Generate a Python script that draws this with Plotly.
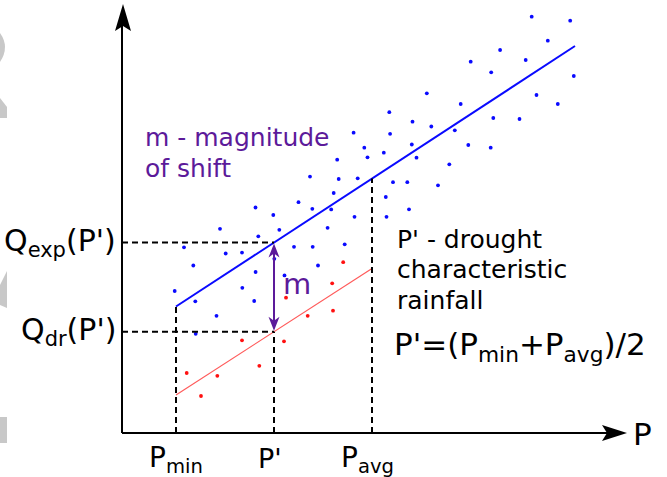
import numpy as np
import plotly.graph_objects as go

# ---- data (P = rainfall, Q = runoff, arbitrary units) ----
blue_P = [409.7, 448.2, 425.8, 378.1, 348.7, 403.7, 369.2, 451.8, 304.8, 414.5,
          338.7, 435.8, 267.3, 290.5, 309.3, 371.3, 397.5, 332.8, 231.6, 268.1,
          242.3, 289.8, 346.3, 368.7, 261.8, 245.5, 294.5, 215.2, 327.3, 188.0,
          216.7, 235.7, 271.0, 285.3, 316.0, 211.7, 263.8, 190.3, 209.2, 287.0,
          232.5, 264.5, 205.6, 176.5, 133.5, 151.3, 98.0, 157.3, 136.3, 62.0,
          172.0, 190.7, 222.7, 103.7, 120.0, 152.3, 71.3, 196.0, 133.6, 162.5,
          52.7, 120.3, 73.3, 132.2, 94.5, 73.7]
blue_Q = [416.3, 412.3, 392.3, 383.0, 371.3, 373.0, 360.7, 357.0, 339.7, 338.0,
          329.0, 329.0, 320.8, 311.3, 306.5, 315.0, 314.0, 302.7, 300.3, 299.2,
          285.3, 288.5, 288.0, 285.3, 280.3, 275.7, 275.3, 273.3, 268.7, 256.4,
          254.0, 254.7, 250.8, 250.8, 247.7, 240.0, 236.0, 224.2, 223.6, 223.7,
          216.2, 216.2, 205.2, 230.8, 225.5, 218.0, 204.2, 203.2, 196.7, 185.7,
          186.2, 186.2, 188.7, 179.5, 180.4, 174.2, 167.5, 167.5, 161.0, 157.6,
          142.0, 145.2, 131.7, 132.0, 117.2, 99.2]

red_P = [221.2, 210.2, 164.0, 211.0, 185.7, 120.0, 162.0, 137.3, 64.7, 95.3, 79.0]
red_Q = [170.8, 149.7, 135.3, 122.3, 117.2, 92.7, 91.7, 67.2, 60.0, 57.2, 37.0]

# fitted relations (end points)
exp_line_P = [54, 453]
exp_line_Q = [126.5, 387]
dr_line_P = [54, 250]
dr_line_Q = [38, 164.5]

P_min = 54
P_avg = 250
P_prime = (P_min + P_avg) / 2
Q_exp = float(np.interp(P_prime, exp_line_P, exp_line_Q))
Q_dr = float(np.interp(P_prime, dr_line_P, dr_line_Q))
Q_exp_avg = float(np.interp(P_avg, exp_line_P, exp_line_Q))

FONT = "DejaVu Sans"
PURPLE = "#5c1a9a"
GREY = "#c8c8c8"

fig = go.Figure()

fig.add_trace(go.Scatter(x=exp_line_P, y=exp_line_Q, mode="lines",
                         line=dict(color="#0a0aff", width=2), hoverinfo="skip"))
fig.add_trace(go.Scatter(x=dr_line_P, y=dr_line_Q, mode="lines",
                         line=dict(color="#ff5a5a", width=1.2), hoverinfo="skip"))
fig.add_trace(go.Scatter(x=blue_P, y=blue_Q, mode="markers",
                         marker=dict(color="#0a0aff", size=3.8, line=dict(width=0))))
fig.add_trace(go.Scatter(x=red_P, y=red_Q, mode="markers",
                         marker=dict(color="#ff1010", size=3.8, line=dict(width=0))))

shapes = []
dash = dict(color="black", width=2, dash="6px,4px")
# guide lines
shapes.append(dict(type="line", x0=0, x1=P_prime, y0=Q_exp, y1=Q_exp, line=dash))
shapes.append(dict(type="line", x0=0, x1=P_prime, y0=Q_dr, y1=Q_dr, line=dash))
shapes.append(dict(type="line", x0=P_min, x1=P_min, y0=0, y1=exp_line_Q[0], line=dash))
shapes.append(dict(type="line", x0=P_prime, x1=P_prime, y0=0, y1=Q_dr, line=dash))
shapes.append(dict(type="line", x0=P_avg, x1=P_avg, y0=0, y1=Q_exp_avg, line=dash))

# axes with arrow heads
shapes.append(dict(type="line", x0=0, x1=0, y0=0, y1=410, line=dict(color="black", width=2)))
shapes.append(dict(type="line", x0=0, x1=490, y0=0, y1=0, line=dict(color="black", width=2)))
shapes.append(dict(type="path", path="M 1 429 L -7 402 L 1 407 L 9 402 Z",
                   fillcolor="black", line=dict(width=0)))
shapes.append(dict(type="path", path="M 505 0 L 480 -8 L 485 0 L 480 8 Z",
                   fillcolor="black", line=dict(width=0)))

# shift arrow m
shapes.append(dict(type="line", x0=P_prime, x1=P_prime, y0=Q_dr + 8, y1=Q_exp - 8,
                   line=dict(color=PURPLE, width=2)))
shapes.append(dict(type="path",
                   path=f"M {P_prime} {Q_exp - 1} L {P_prime - 5.5} {Q_exp - 15} "
                        f"L {P_prime} {Q_exp - 11} L {P_prime + 5.5} {Q_exp - 15} Z",
                   fillcolor=PURPLE, line=dict(width=0)))
shapes.append(dict(type="path",
                   path=f"M {P_prime} {Q_dr + 1} L {P_prime - 5.5} {Q_dr + 15} "
                        f"L {P_prime} {Q_dr + 11} L {P_prime + 5.5} {Q_dr + 15} Z",
                   fillcolor=PURPLE, line=dict(width=0)))

# light grey marks along the left edge
shapes.append(dict(type="path", path="M -122 400 Q -112 386 -122 371 Z",
                   fillcolor=GREY, line=dict(width=0)))
shapes.append(dict(type="path", path="M -122 335 L -115 326 L -115 315 L -122 315 Z",
                   fillcolor=GREY, line=dict(width=0)))
shapes.append(dict(type="path", path="M -115 162 L -122 148 L -122 128 L -115 125 Z",
                   fillcolor=GREY, line=dict(width=0)))
shapes.append(dict(type="rect", x0=-122, x1=-115, y0=-10, y1=16,
                   fillcolor=GREY, line=dict(width=0)))

ann = []


def txt(x, y, s, size, color="black", xanchor="left", yanchor="middle"):
    ann.append(dict(x=x, y=y, text=s, showarrow=False, xanchor=xanchor, yanchor=yanchor,
                    font=dict(family=FONT, size=size, color=color),
                    xref="x", yref="y"))


txt(-4, Q_exp, "Q<sub>exp</sub>(P')", 30, xanchor="right")
txt(-4, Q_dr, "Q<sub>dr</sub>(P')", 30, xanchor="right")
txt(25, -26, "P<sub>min</sub>", 28)
txt(P_prime - 4, -25, "P'", 27, xanchor="center")
txt(217, -26, "P<sub>avg</sub>", 28)
txt(509, -1, "P", 31)
txt(21, 296, "m - magnitude", 25, color=PURPLE)
txt(21, 265, "of shift", 25, color=PURPLE)
txt(P_prime + 7, 149, "m", 29, color=PURPLE)
txt(273, 194, "P' - drought", 25)
txt(273, 164, "characteristic", 25)
txt(273, 133, "rainfall", 25)
txt(270, 87, "P'=(P<sub>min</sub>+P<sub>avg</sub>)/2", 31)

fig.update_layout(
    width=667, height=477,
    margin=dict(l=0, r=0, t=0, b=0),
    paper_bgcolor="white", plot_bgcolor="white",
    showlegend=False,
    shapes=shapes, annotations=ann,
    xaxis=dict(range=[-122, 545], visible=False, fixedrange=True),
    yaxis=dict(range=[-44, 433], visible=False, fixedrange=True),
)

fig.write_html("out.html")
